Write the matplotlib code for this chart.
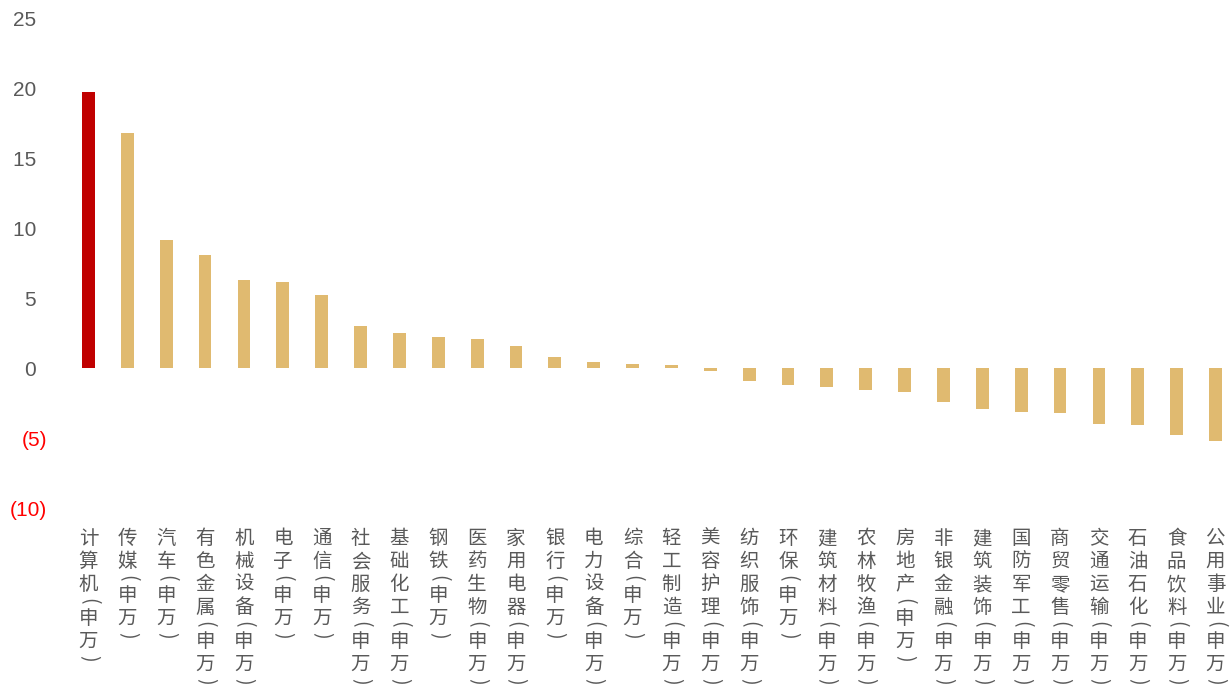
import matplotlib
matplotlib.use("Agg")
import matplotlib.pyplot as plt

industries = ["计算机", "传媒", "汽车", "有色金属", "机械设备", "电子", "通信",
              "社会服务", "基础化工", "钢铁", "医药生物", "家用电器", "银行",
              "电力设备", "综合", "轻工制造", "美容护理", "纺织服饰", "环保",
              "建筑材料", "农林牧渔", "房地产", "非银金融", "建筑装饰", "国防军工",
              "商贸零售", "交通运输", "石油石化", "食品饮料", "公用事业"]
returns = [19.7, 16.8, 9.15, 8.1, 6.3, 6.15, 5.2, 3.0, 2.5, 2.2, 2.05, 1.6,
           0.8, 0.45, 0.3, 0.25, -0.2, -0.93, -1.2, -1.35, -1.57, -1.7,
           -2.43, -2.93, -3.13, -3.2, -3.97, -4.1, -4.77, -5.2]
highlight = "计算机"
suffix = "(申万)"
y_ticks = [-10, -5, 0, 5, 10, 15, 20, 25]


def tick_text(v):
    # Excel style: negatives in parentheses, positives padded for alignment
    return f"({abs(v)})" if v < 0 else f"{v}\u2002"


fig = plt.figure(figsize=(12.32, 6.88), dpi=100)
n = len(industries)
step = (1215.5 - 88.5) / (n - 1)
left = 88.5 - step / 2
ax = fig.add_axes([left / 1232, 1 - 508 / 688, n * step / 1232, 490 / 688])

colors = ["#C00000" if c == highlight else "#E0BA70" for c in industries]
ax.bar(range(n), returns, width=0.33, color=colors, zorder=2)

ax.set_xlim(-0.5, n - 0.5)
ax.set_ylim(-10, 25)
ax.set_yticks(y_ticks)
ax.set_yticklabels([tick_text(v) for v in y_ticks], fontfamily="Liberation Sans",
                   fontsize=15)
for lab, v in zip(ax.get_yticklabels(), y_ticks):
    lab.set_color("#FF0000" if v < 0 else "#595959")
ax.tick_params(axis="y", length=0, pad=16)
ax.set_xticks([])
for s in ax.spines.values():
    s.set_visible(False)

# vertical category labels, one glyph per line, brackets turned sideways
top_px = 688 - 527
for i, name in enumerate(industries):
    cursor = 0
    for ch in name + suffix:
        adv = 11 if ch in "()" else 23
        ax.annotate(ch, xy=(i, top_px), xycoords=("data", "figure pixels"),
                    xytext=(0, -(cursor + adv / 2)), textcoords="offset pixels",
                    ha="center", va="center", fontsize=14, color="#595959",
                    rotation=-90 if ch in "()" else 0,
                    family=["Noto Sans CJK SC", "DejaVu Sans"])
        cursor += adv

fig.savefig("out.png", dpi=100)
